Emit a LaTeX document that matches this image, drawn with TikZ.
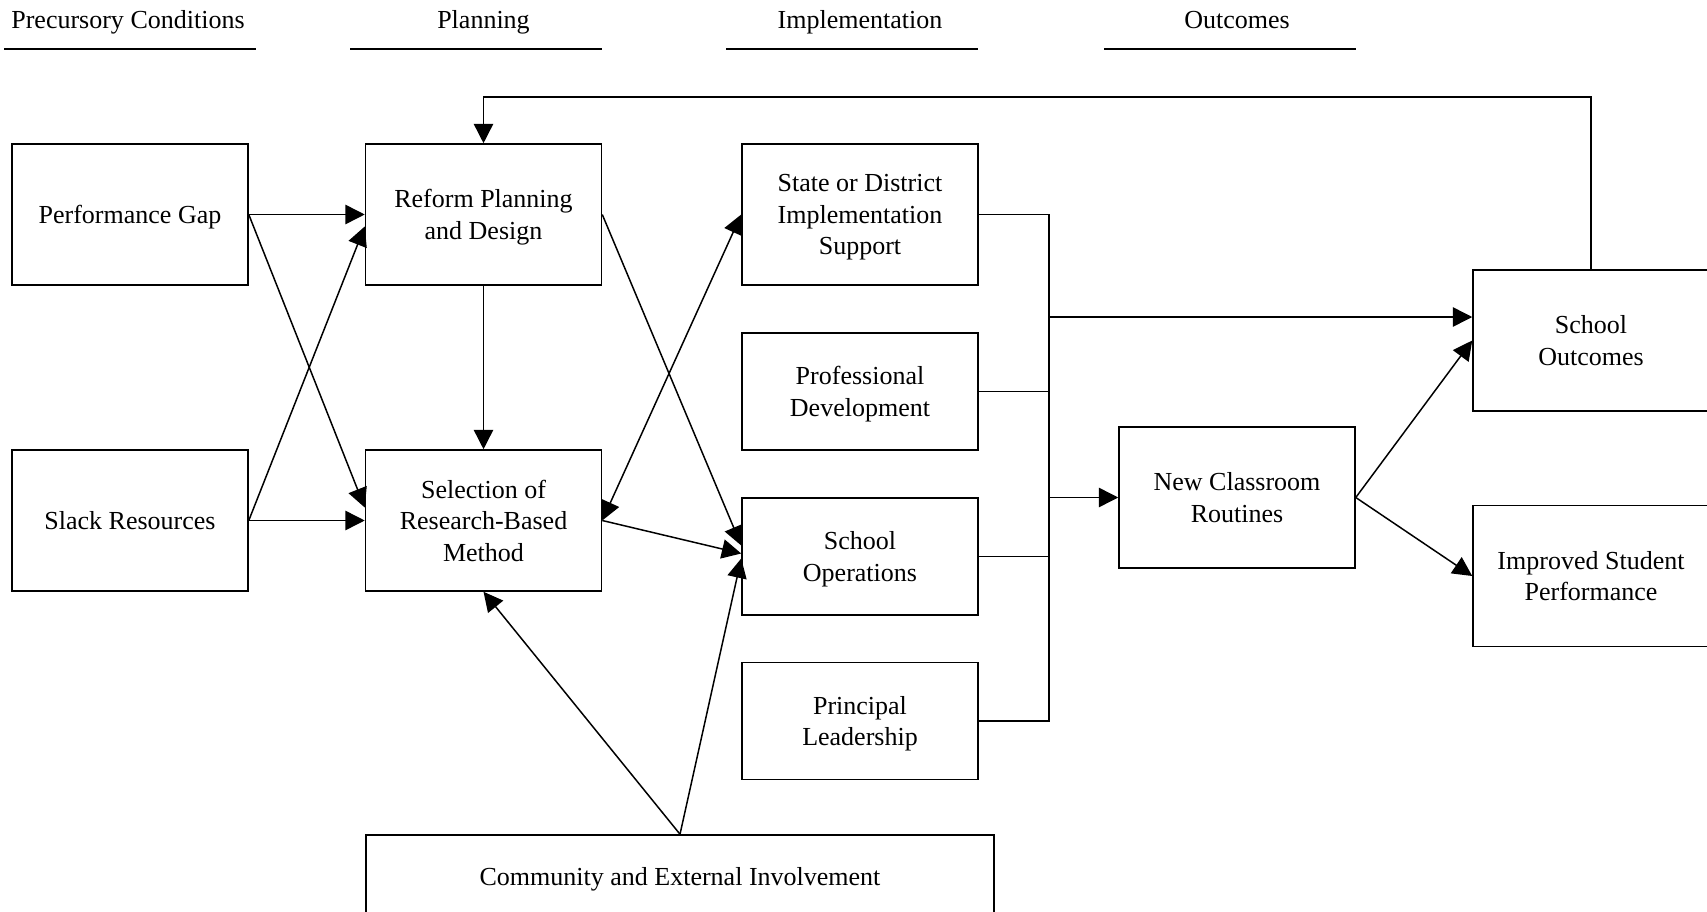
\documentclass[tikz,border=0pt]{standalone}
\usepackage{fontspec}
\setmainfont{Liberation Serif}
\usetikzlibrary{arrows.meta}

\tikzset{
  reform box/.style={rectangle, draw=black, line width=0.9pt, minimum width=4.72cm, minimum height=2.82cm, align=center, inner sep=2pt, text depth=0pt},
  reform shortbox/.style={reform box, minimum height=2.34cm},
  reform widebox/.style={reform box, minimum width=12.56cm, minimum height=1.64cm},
  reform edge/.style={->, draw=black, line width=0.85pt},
  reform line/.style={draw=black, line width=0.85pt},
  reform header/.style={anchor=base, font=\fontsize{14.8}{17.9}\selectfont},
  reform rule/.style={draw=black, line width=1.1pt},
}

\begin{document}
\begin{tikzpicture}[x=0.02cm, y=-0.02cm, >={Triangle[length=11pt, width=11pt]},
    font=\fontsize{14.8}{17.9}\selectfont]
    \useasboundingbox (0,0) rectangle (1707,912);
    % stage headings
    \foreach \x/\t/\name/\txt in {130/128/precursory/Precursory Conditions, 476/483.5/planning/Planning,
        852/860/implementation/Implementation, 1230/1237/outcomes/Outcomes} {
      \node (\name) [reform header] at (\t,29) {\txt};
      \draw[reform rule] (\x-126,49) -- (\x+126,49);
    }
    % boxes
    \node (perfgap) [reform box] at (130,214.5) {Performance Gap};
    \node (slack) [reform box] at (130,520.5) {Slack Resources};
    \node (design) [reform box] at (483.5,214.5) {Reform Planning\\and Design};
    \node (selection) [reform box] at (483.5,520.5) {Selection of\\Research-Based\\Method};
    \node (support) [reform box] at (860,214.5) {State or District\\Implementation\\Support};
    \node (profdev) [reform shortbox] at (860,391.5) {Professional\\Development};
    \node (operations) [reform shortbox] at (860,556.5) {School\\Operations};
    \node (principal) [reform shortbox] at (860,721) {Principal\\Leadership};
    \node (community) [reform widebox] at (680,876) {Community and External Involvement};
    \node (routines) [reform box] at (1237,497.5) {New Classroom\\Routines};
    \node (schoolout) [reform box] at (1591,340.5) {School\\Outcomes};
    \node (improved) [reform box] at (1591,576) {Improved Student\\Performance};
    % precursory conditions into planning
    \draw[reform edge] (perfgap.east) -- (design.west);
    \draw[reform edge] (perfgap.east) -- ([yshift=0.26cm]selection.west);
    \draw[reform edge] (slack.east) -- (selection.west);
    \draw[reform edge] (slack.east) -- ([yshift=-0.24cm]design.west);
    \draw[reform edge] (design.south) -- (selection.north);
    % planning into implementation
    \draw[reform edge] (design.east) -- ([yshift=0.22cm]operations.west);
    \draw[reform edge, <->] (selection.east) -- (support.west);
    \draw[reform edge] (selection.east) -- ([yshift=0.06cm]operations.west);
    \draw[reform edge] (community.north) -- (selection.south);
    \draw[reform edge] (community.north) -- ([yshift=-0.04cm]operations.west);
    % implementation bus
    \coordinate (busx) at (1049,0);
    \coordinate (outin) at ([yshift=0.47cm]schoolout.west);
    \draw[reform line] (support.east) -- (support.east -| busx) -- (principal.east -| busx) -- (principal.east);
    \draw[reform line] (profdev.east) -- (profdev.east -| busx);
    \draw[reform line] (operations.east) -- (operations.east -| busx);
    \draw[reform edge] (routines.west -| busx) -- (routines.west);
    \draw[reform edge] (outin -| busx) -- (outin);
    % outcomes
    \draw[reform edge] (routines.east) -- (schoolout.west);
    \draw[reform edge] (routines.east) -- (improved.west);
    \coordinate (looptop) at (0,97);
    \draw[reform edge] (schoolout.north) -- (schoolout.north |- looptop) -| (design.north);
  \end{tikzpicture}
\end{document}
